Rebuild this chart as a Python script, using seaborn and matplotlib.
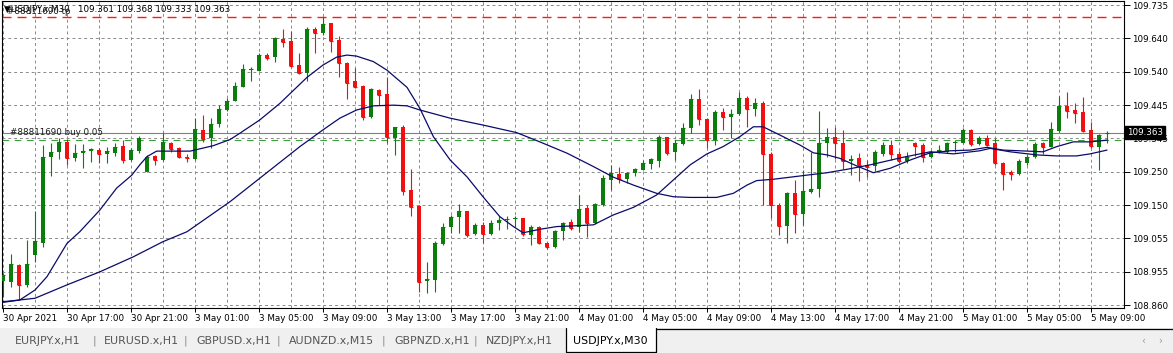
import numpy as np
import pandas as pd
import matplotlib
matplotlib.use("Agg")
import matplotlib.pyplot as plt
import seaborn as sns
from matplotlib.patches import Rectangle

# USDJPY.x M30 bars, 30 Apr 13:00 -> 5 May 10:00
opens = [108.931, 108.927, 108.977, 108.919, 109.006, 109.042, 109.293, 109.306, 109.337, 109.288,
         109.303, 109.309, 109.312, 109.301, 109.304, 109.324, 109.283, 109.310, 109.247, 109.295,
         109.283, 109.332, 109.317, 109.293, 109.286, 109.372, 109.346, 109.388, 109.429, 109.456,
         109.497, 109.546, 109.544, 109.589, 109.582, 109.635, 109.630, 109.560, 109.538, 109.664,
         109.652, 109.682, 109.633, 109.567, 109.513, 109.499, 109.409, 109.487, 109.475, 109.348,
         109.378, 109.196, 109.150, 108.931, 108.932, 109.038, 109.087, 109.116, 109.133, 109.067,
         109.094, 109.067, 109.100, 109.108, 109.110, 109.114, 109.065, 109.087, 109.042, 109.029,
         109.077, 109.102, 109.087, 109.142, 109.099, 109.152, 109.225, 109.241, 109.227, 109.244,
         109.254, 109.271, 109.281, 109.349, 109.305, 109.330, 109.375, 109.461, 109.404, 109.341,
         109.422, 109.408, 109.416, 109.463, 109.431, 109.448, 109.300, 109.152, 109.091, 109.188,
         109.126, 109.191, 109.198, 109.334, 109.351, 109.334, 109.281, 109.288, 109.269, 109.266,
         109.300, 109.327, 109.301, 109.279, 109.334, 109.327, 109.293, 109.306, 109.307, 109.332,
         109.334, 109.371, 109.330, 109.346, 109.332, 109.275, 109.249, 109.242, 109.275, 109.291,
         109.334, 109.322, 109.368, 109.441, 109.429, 109.422, 109.371, 109.322, 109.361]
highs = [108.955, 109.009, 108.980, 109.050, 109.133, 109.327, 109.332, 109.347, 109.344, 109.329,
         109.330, 109.317, 109.317, 109.322, 109.333, 109.340, 109.318, 109.352, 109.298, 109.298,
         109.361, 109.337, 109.320, 109.301, 109.405, 109.414, 109.405, 109.443, 109.464, 109.511,
         109.562, 109.555, 109.594, 109.596, 109.643, 109.664, 109.660, 109.596, 109.672, 109.672,
         109.699, 109.683, 109.645, 109.570, 109.550, 109.502, 109.493, 109.489, 109.524, 109.380,
         109.385, 109.256, 109.152, 108.987, 109.048, 109.100, 109.122, 109.155, 109.135, 109.098,
         109.103, 109.109, 109.119, 109.119, 109.120, 109.115, 109.094, 109.091, 109.045, 109.080,
         109.103, 109.110, 109.181, 109.152, 109.157, 109.238, 109.269, 109.262, 109.249, 109.259,
         109.282, 109.288, 109.356, 109.351, 109.340, 109.390, 109.477, 109.489, 109.407, 109.429,
         109.434, 109.431, 109.482, 109.470, 109.463, 109.456, 109.307, 109.157, 109.191, 109.225,
         109.254, 109.307, 109.427, 109.375, 109.380, 109.371, 109.298, 109.303, 109.283, 109.312,
         109.337, 109.341, 109.310, 109.307, 109.337, 109.332, 109.312, 109.327, 109.337, 109.341,
         109.376, 109.373, 109.352, 109.356, 109.346, 109.278, 109.254, 109.285, 109.298, 109.337,
         109.337, 109.395, 109.470, 109.480, 109.448, 109.466, 109.395, 109.358, 109.368]
lows = [108.885, 108.912, 108.875, 108.912, 108.987, 109.030, 109.237, 109.286, 109.269, 109.279,
        109.261, 109.278, 109.273, 109.275, 109.296, 109.274, 109.280, 109.303, 109.247, 109.269,
        109.280, 109.305, 109.288, 109.278, 109.283, 109.335, 109.319, 109.380, 109.426, 109.455,
        109.495, 109.514, 109.543, 109.575, 109.570, 109.613, 109.555, 109.533, 109.514, 109.594,
        109.649, 109.599, 109.524, 109.461, 109.492, 109.400, 109.407, 109.443, 109.334, 109.298,
        109.181, 109.120, 108.899, 108.896, 108.899, 109.035, 109.070, 109.071, 109.060, 109.063,
        109.041, 109.064, 109.079, 109.081, 109.089, 109.062, 109.035, 109.038, 109.023, 109.027,
        109.050, 109.079, 109.074, 109.060, 109.096, 109.149, 109.196, 109.215, 109.215, 109.236,
        109.253, 109.256, 109.262, 109.298, 109.283, 109.327, 109.361, 109.385, 109.317, 109.327,
        109.371, 109.346, 109.414, 109.380, 109.411, 109.152, 109.113, 109.064, 109.042, 109.070,
        109.094, 109.186, 109.176, 109.291, 109.285, 109.256, 109.239, 109.223, 109.233, 109.250,
        109.295, 109.283, 109.275, 109.275, 109.295, 109.278, 109.290, 109.304, 109.303, 109.307,
        109.332, 109.324, 109.327, 109.324, 109.269, 109.196, 109.225, 109.240, 109.269, 109.288,
        109.301, 109.320, 109.366, 109.405, 109.390, 109.366, 109.317, 109.254, 109.333]
closes = [108.948, 108.980, 108.919, 108.980, 109.047, 109.291, 109.306, 109.337, 109.288, 109.304,
          109.310, 109.314, 109.300, 109.308, 109.322, 109.283, 109.312, 109.346, 109.293, 109.283,
          109.335, 109.314, 109.291, 109.288, 109.374, 109.343, 109.388, 109.431, 109.455, 109.499,
          109.548, 109.548, 109.589, 109.580, 109.640, 109.628, 109.558, 109.538, 109.664, 109.652,
          109.680, 109.631, 109.565, 109.509, 109.495, 109.408, 109.489, 109.473, 109.351, 109.378,
          109.194, 109.147, 108.928, 108.936, 109.042, 109.089, 109.116, 109.133, 109.064, 109.094,
          109.067, 109.100, 109.108, 109.111, 109.114, 109.068, 109.089, 109.042, 109.029, 109.077,
          109.099, 109.084, 109.140, 109.099, 109.154, 109.230, 109.244, 109.227, 109.246, 109.256,
          109.275, 109.286, 109.351, 109.303, 109.332, 109.375, 109.461, 109.404, 109.341, 109.424,
          109.408, 109.417, 109.463, 109.431, 109.448, 109.300, 109.152, 109.091, 109.188, 109.126,
          109.193, 109.199, 109.334, 109.351, 109.332, 109.281, 109.286, 109.269, 109.264, 109.307,
          109.327, 109.300, 109.281, 109.291, 109.325, 109.293, 109.307, 109.312, 109.334, 109.337,
          109.371, 109.330, 109.346, 109.327, 109.275, 109.242, 109.242, 109.281, 109.291, 109.330,
          109.322, 109.373, 109.441, 109.427, 109.421, 109.369, 109.324, 109.356, 109.363]

# moving averages, sampled at bar positions
fast_idx = [0, 2.1, 4, 5.5, 8, 9.6, 12.1, 14.2, 16.1, 17.1, 18, 19.2, 21.3, 23.4, 26.3, 28.4, 29.6,
            32.1, 34.6, 38, 40, 41.7, 43, 44.2, 46.3, 48, 50.5, 52.1, 53.8, 55.9, 58, 60, 62.1,
            63.8, 65, 67.1, 69.2, 71.3, 73.8, 76.3, 78.8, 81.7, 83.8, 85.9, 88, 90, 92.1, 93.8,
            95, 97.1, 99.6, 101.3, 103, 104.6, 106.7, 108.8, 110.9, 113.4, 115.9, 118.4, 120.9,
            123, 125, 127.1, 130, 131.7, 133.8, 135.9, 138]
fast_val = [108.870, 108.875, 108.904, 108.943, 109.040, 109.074, 109.137, 109.201, 109.239, 109.269,
            109.293, 109.309, 109.309, 109.309, 109.325, 109.343, 109.361, 109.400, 109.448, 109.524,
            109.560, 109.583, 109.589, 109.586, 109.570, 109.545, 109.495, 109.434, 109.351, 109.283,
            109.234, 109.176, 109.118, 109.089, 109.071, 109.081, 109.089, 109.091, 109.094, 109.123,
            109.145, 109.181, 109.225, 109.269, 109.301, 109.322, 109.351, 109.380, 109.380, 109.356,
            109.327, 109.304, 109.298, 109.288, 109.266, 109.246, 109.259, 109.283, 109.304, 109.310,
            109.312, 109.320, 109.312, 109.310, 109.307, 109.322, 109.336, 109.336, 109.341]
slow_idx = [0, 2.1, 4, 8, 12.1, 16.3, 20, 23, 24.6, 28.4, 32.1, 37.1, 40, 42.1, 44.2, 46.3, 48.8,
            50.5, 52.1, 55.9, 60, 64.2, 67.1, 70.5, 73.8, 76.3, 78.8, 81.7, 83.8, 85.9, 89.2, 91.3,
            93, 94.2, 96.3, 98.4, 100.5, 103, 105.5, 108.4, 112.5, 115.9, 118.8, 122.1, 123.4,
            125.9, 129.2, 131.7, 134.2, 135.9, 138]
slow_val = [108.868, 108.875, 108.880, 108.919, 108.957, 109.001, 109.045, 109.074, 109.100, 109.162,
            109.230, 109.322, 109.371, 109.405, 109.429, 109.441, 109.443, 109.441, 109.429, 109.405,
            109.385, 109.363, 109.336, 109.303, 109.264, 109.233, 109.210, 109.186, 109.176, 109.174,
            109.174, 109.186, 109.210, 109.223, 109.227, 109.233, 109.239, 109.246, 109.256, 109.269,
            109.291, 109.307, 109.301, 109.310, 109.317, 109.307, 109.298, 109.295, 109.295, 109.301,
            109.312]

time_labels = ["30 Apr 2021", "30 Apr 17:00", "30 Apr 21:00", "3 May 01:00", "3 May 05:00",
               "3 May 09:00", "3 May 13:00", "3 May 17:00", "3 May 21:00", "4 May 01:00",
               "4 May 05:00", "4 May 09:00", "4 May 13:00", "4 May 17:00", "4 May 21:00",
               "5 May 01:00", "5 May 05:00", "5 May 09:00"]
price_labels = ["108.860", "108.955", "109.055", "109.150", "109.250",
                "109.345", "109.445", "109.540", "109.640", "109.735"]

bid_price = 109.363
order_price = 109.342
tp_price = 109.701
order_text = "#88811690 buy 0.05"
tp_text = "#88811690 tp"
tabs = ["EURJPY.x,H1", "EURUSD.x,H1", "GBPUSD.x,H1", "AUDNZD.x,M15", "GBPNZD.x,H1", "NZDJPY.x,H1"]
active_tab = "USDJPY.x,M30"

GREEN = "#0a7d0a"
RED = "#f01010"
NAVY = "#0b0b6b"
GRID = "#8a8a8a"

sns.set_theme(style="white")
plt.rcParams['font.family'] = ['DejaVu Sans']

W, H = 1173, 353
fig = plt.figure(figsize=(W / 100, H / 100), dpi=100)
fig.patch.set_facecolor("white")

ax = fig.add_axes([2 / W, 1 - 308 / H, 1122 / W, 307 / H])
ax.set_facecolor("white")

df = pd.DataFrame({"o": opens, "h": highs, "l": lows, "c": closes})
df["i"] = np.arange(len(df))
cols = np.where(df.c >= df.o, GREEN, RED)

ax.axhline(tp_price, color="#ff1a1a", lw=1.0, ls=(0, (6.5, 4.3)), zorder=1)
ax.axhline(bid_price, color="#808080", lw=0.8, zorder=1)
ax.axhline(order_price, color="#3aa03a", lw=0.8, ls=(0, (6, 5)), zorder=1)

ax.vlines(df.i, df.l, df.h, colors=cols, lw=0.8, zorder=3)
ax.bar(df.i, (df.c - df.o).abs(), bottom=df[["o", "c"]].min(axis=1), width=0.62,
       color=cols, lw=0, zorder=3)
ax.hlines(df.c, df.i - 0.31, df.i + 0.31, colors=cols, lw=0.8, zorder=3)

sns.lineplot(x=fast_idx, y=fast_val, ax=ax, color=NAVY, lw=0.9, sort=False, estimator=None, zorder=4)
sns.lineplot(x=slow_idx, y=slow_val, ax=ax, color=NAVY, lw=0.9, sort=False, estimator=None, zorder=4)

ax.set_xlim(-0.125, 140.125)
ax.set_ylim(108.8516, 109.7467)

ax.set_yticks(np.linspace(108.860, 109.735, 10))
ax.set_yticklabels(price_labels)
ax.yaxis.tick_right()
ax.tick_params(axis="y", length=4, width=0.7, pad=2, labelsize=6.3, colors="black", direction="out")

ax.set_xticks(np.arange(0, 8 * len(time_labels), 8))
ax.set_xticklabels(time_labels, ha="left")
ax.set_xticks(np.arange(4, 140, 8), minor=True)
ax.tick_params(axis="x", which="major", length=3, width=0.7, pad=1.5, labelsize=6.3,
               colors="black", direction="out", bottom=True)
ax.tick_params(axis="x", which="minor", length=0)

ax.grid(True, which="both", axis="x", color=GRID, lw=0.7, ls=(0, (3, 3)))
ax.grid(True, which="major", axis="y", color=GRID, lw=0.7, ls=(0, (3, 3)))
ax.set_axisbelow(True)
ax.set_xlabel("")
ax.set_ylabel("")
for s in ax.spines.values():
    s.set_color("black")
    s.set_linewidth(0.8)

ax.text(0.007, order_price + 0.022, order_text, transform=ax.get_yaxis_transform(),
        fontsize=6.3, color="#1a1a1a", va="center", ha="left", zorder=5)
ax.text(1.003, bid_price, f"{bid_price:.3f}", transform=ax.get_yaxis_transform(),
        fontsize=6.3, color="white", va="center", ha="left", clip_on=False, zorder=6,
        bbox=dict(facecolor="black", edgecolor="black", pad=1.4))

# overlay in pixel coordinates for header and tab strip
ov = fig.add_axes([0, 0, 1, 1], zorder=10)
ov.set_xlim(0, W)
ov.set_ylim(H, 0)
ov.axis("off")
ov.patch.set_alpha(0)

header = "\u25bcUSDJPY.x,M30   {:.3f} {:.3f} {:.3f} {:.3f}".format(opens[-1], highs[-1], lows[-1], closes[-1])
ov.text(4, 9, header, fontsize=6.3, color="black", va="center", ha="left")
ov.text(7, 12, tp_text, fontsize=6.3, color="#1a1a1a", va="center", ha="left")

ov.add_patch(Rectangle((0, 328), W, 25, facecolor="#f0f0f0", edgecolor="none"))
ov.add_patch(Rectangle((566, 328), 90, 24, facecolor="white", edgecolor="none"))
ov.plot([566, 566, 656, 656], [328, 352, 352, 328], color="black", lw=0.9)
ov.plot([656, W], [328.5, 328.5], color="black", lw=0.9)

tab_x = [15, 104, 196, 289, 394, 486]
sep_x = [94, 185, 278, 383, 475]
for t, x in zip(tabs, tab_x):
    ov.text(x, 341, t, fontsize=7.9, color="#555555", va="center", ha="left")
for x in sep_x:
    ov.text(x, 341, "|", fontsize=7.9, color="#888888", va="center", ha="center")
ov.text(573, 341, active_tab, fontsize=7.9, color="black", va="center", ha="left")
ov.text(1143, 341, "\u2039", fontsize=7, color="#999999", va="center", ha="center")
ov.text(1160, 341, "\u203a", fontsize=7, color="#999999", va="center", ha="center")

fig.savefig("out.png", dpi=100)
